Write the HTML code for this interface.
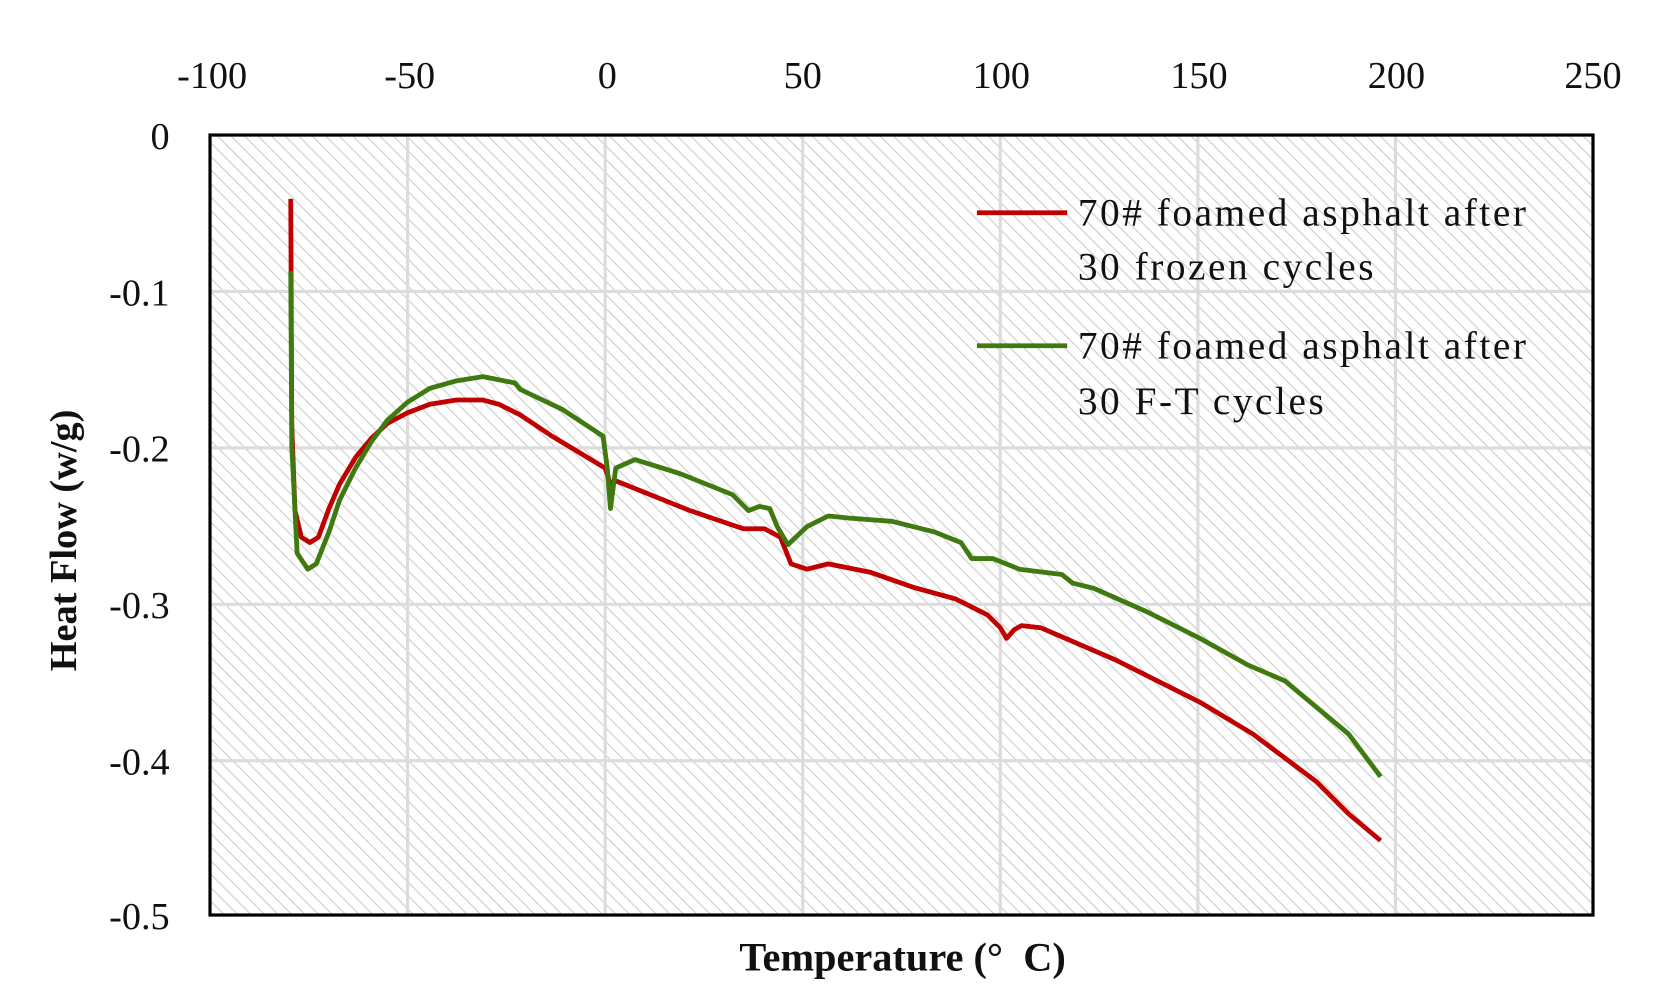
<!DOCTYPE html>
<html><head><meta charset="utf-8"><style>html,body{margin:0;padding:0;background:#fff;}svg{display:block}</style></head>
<body>
<svg width="1665" height="999" viewBox="0 0 1665 999" xmlns="http://www.w3.org/2000/svg">
<defs>
<pattern id="h" width="9" height="9" patternUnits="userSpaceOnUse" patternTransform="rotate(-45)">
<rect width="9" height="9" fill="#fff"/>
<line x1="0" y1="0" x2="0" y2="9" stroke="#cfcfcf" stroke-width="2.2"/>
</pattern>
</defs>
<g transform="translate(-0.3,-0.1) scale(1.0622,1.0641)">
<rect x="198" y="127" width="1302" height="733" fill="url(#h)"/>
<g stroke="#dcdcdc" stroke-width="3">
<line x1="384" y1="127" x2="384" y2="860"/><line x1="570" y1="127" x2="570" y2="860"/>
<line x1="756" y1="127" x2="756" y2="860"/><line x1="942" y1="127" x2="942" y2="860"/>
<line x1="1128" y1="127" x2="1128" y2="860"/><line x1="1314" y1="127" x2="1314" y2="860"/>
<line x1="198" y1="274" x2="1500" y2="274"/><line x1="198" y1="421" x2="1500" y2="421"/>
<line x1="198" y1="568" x2="1500" y2="568"/><line x1="198" y1="715" x2="1500" y2="715"/>
</g>
<rect x="198" y="127" width="1302" height="733" fill="none" stroke="#000" stroke-width="3"/>
<g font-family="Liberation Serif, serif" font-size="36" fill="#111" text-anchor="middle">
<text x="200" y="83">-100</text><text x="386" y="83">-50</text><text x="572" y="83">0</text>
<text x="756" y="83">50</text><text x="943" y="83">100</text><text x="1129" y="83">150</text>
<text x="1315" y="83">200</text><text x="1500" y="83">250</text>
</g>
<g font-family="Liberation Serif, serif" font-size="36" fill="#111" text-anchor="end">
<text x="160" y="140">0</text><text x="160" y="287">-0.1</text><text x="160" y="434">-0.2</text>
<text x="160" y="581">-0.3</text><text x="160" y="728">-0.4</text><text x="160" y="873">-0.5</text>
</g>
<text x="850" y="912" text-anchor="middle" font-family="Liberation Serif, serif" font-size="38" font-weight="bold" fill="#111">Temperature (°&#160;&#160;C)</text>
<text transform="translate(72,508) rotate(-90)" text-anchor="middle" font-family="Liberation Serif, serif" font-size="36" font-weight="bold" fill="#111">Heat Flow (w/g)</text>
<polyline fill="none" stroke="#c00000" stroke-width="4.5" stroke-linejoin="round" points="274,187 275,400 278,480 284,505 292,510 300,505 310,478 320,455 335,430 350,412 365,398 384,388 405,380 430,376 455,376 470,380 490,390 520,410 570,440 575,455 580,452 600,460 650,480 700,497 720,497 735,505 745,530 760,535 780,530 820,538 860,552 900,563 930,578 942,590 948,600 955,592 962,588 980,590 1050,620 1130,660 1180,690 1240,735 1270,765 1300,790"/>
<polyline fill="none" stroke="#3f7a10" stroke-width="4.5" stroke-linejoin="round" points="274,255 275,420 280,520 290,535 298,530 310,500 320,470 335,440 350,415 365,395 384,378 405,365 430,358 455,354 485,360 490,366 530,385 568,410 572,440 575,478 580,440 598,432 640,445 690,465 705,480 715,476 725,478 732,495 742,512 760,495 780,485 800,487 840,490 880,500 905,510 915,525 935,525 960,535 1000,540 1010,548 1030,553 1080,575 1130,600 1175,625 1210,640 1240,665 1270,690 1300,730"/>
<line x1="920" y1="200" x2="1005" y2="200" stroke="#c00000" stroke-width="4.5"/>
<line x1="920" y1="325" x2="1005" y2="325" stroke="#3f7a10" stroke-width="4.5"/>
<g font-family="Liberation Serif, serif" font-size="37" fill="#111" letter-spacing="2.4">
<text x="1015" y="212">70# foamed asphalt after</text><text x="1015" y="263">30 frozen cycles</text>
<text x="1015" y="337">70# foamed asphalt after</text><text x="1015" y="389">30 F-T cycles</text>
</g>
</g>
</svg>
</body></html>
